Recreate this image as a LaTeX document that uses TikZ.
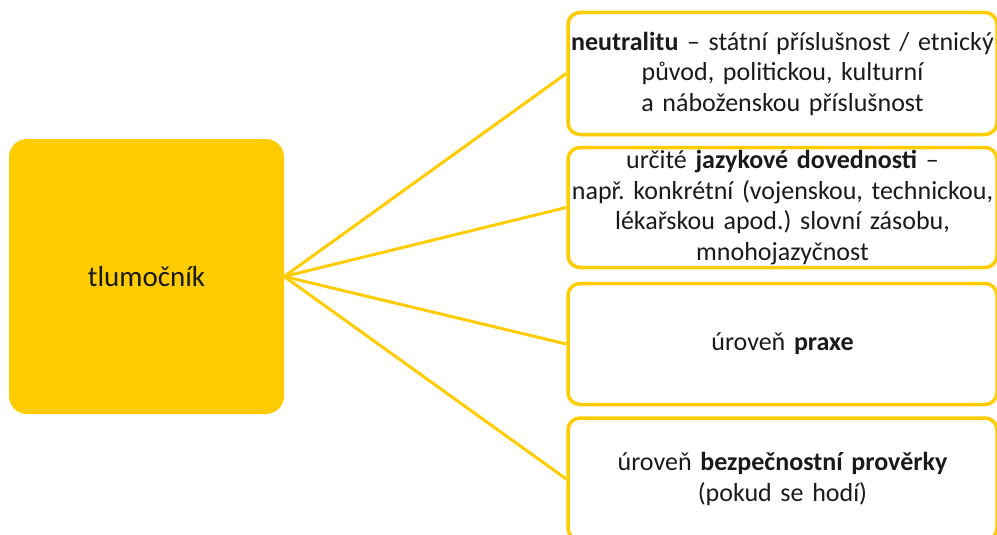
\documentclass[tikz,border=0pt]{standalone}
\usepackage{fontspec}
\setmainfont{Carlito}
\frenchspacing
\definecolor{gold}{HTML}{FFCC00}
\definecolor{ink}{HTML}{1A1A1A}
\begin{document}
\begin{tikzpicture}[x=1pt,y=-1pt,
  mainbox/.style={fill=gold,rounded corners=18pt,minimum width=275pt,minimum height=275pt,inner sep=0pt,text=ink,font=\fontsize{29}{34}\selectfont},
  itembox/.style={draw=gold,line width=3.5pt,fill=white,rounded corners=12pt,minimum width=429pt,inner sep=0pt,text width=429pt,align=center,text=ink,font=\fontsize{26}{30.5}\selectfont},
  link/.style={draw=gold,line width=3pt}]
\useasboundingbox (0,0) rectangle (997,535);
\clip (0,0) rectangle (997,535);
\node[mainbox] (m) at (146.5,276.5) {tlumočník};
\node[itembox,minimum height=122pt] (b1) at (782.5,73.5) {\textbf{neutralitu} – státní příslušnost / etnický\\ původ, politickou, kulturní\\ a náboženskou příslušnost};
\node[itembox,minimum height=120pt] (b2) at (782.5,207.5) {určité \textbf{jazykové dovednosti} –\\ např. konkrétní (vojenskou, technickou,\\ lékařskou apod.) slovní zásobu,\\ mnohojazyčnost};
\node[itembox,minimum height=121pt] (b3) at (782.5,344) {úroveň \textbf{praxe}};
\node[itembox,minimum height=122pt] (b4) at (782.5,479) {úroveň \textbf{bezpečnostní prověrky}\\ (pokud se hodí)};
\draw[link] (m.east) -- (b1.west);
\draw[link] (m.east) -- (b2.west);
\draw[link] (m.east) -- (b3.west);
\draw[link] (m.east) -- (b4.west);
\end{tikzpicture}
\end{document}
